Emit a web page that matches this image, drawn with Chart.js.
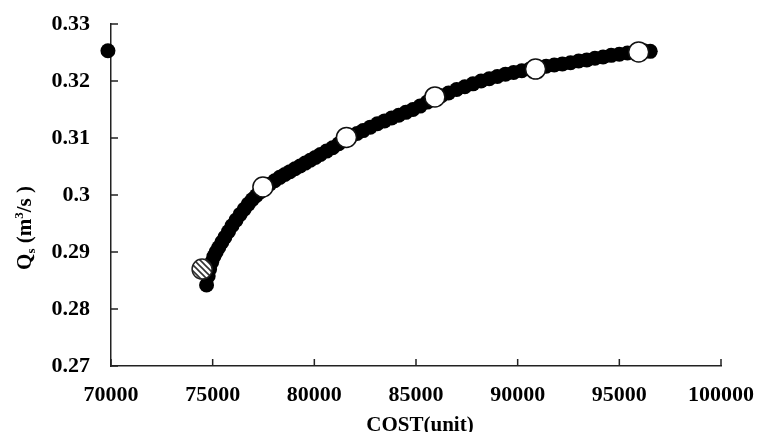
<!DOCTYPE html>
<html>
<head>
<meta charset="utf-8">
<script src="https://cdn.jsdelivr.net/npm/chart.js@4.4.1/dist/chart.umd.min.js"></script>
<style>
  html, body { margin: 0; padding: 0; background: #fff; }
  #wrap { width: 760px; height: 432px; }
</style>
</head>
<body>
<div id="wrap"><canvas id="chart" width="760" height="432"></canvas></div>
<script>
// Pareto front (black dots), cost vs Qs
const frontCost = [69850, 74700, 74780, 74850, 74950, 75060, 75170, 75300, 75450, 75600, 75780,
  75950, 76150, 76350, 76550, 76750, 76950, 77150, 77350, 77550, 77800, 78050, 78300, 78550,
  78800, 79050, 79300, 79550, 79800, 80050, 80300, 80600, 80900, 81200, 81500, 81800, 82100,
  82400, 82750, 83100, 83450, 83800, 84150, 84500, 84850, 85200, 85550, 85900, 86250, 86600,
  87000, 87400, 87800, 88200, 88600, 89000, 89400, 89800, 90200, 90600, 91000, 91400, 91800,
  92200, 92600, 93000, 93400, 93800, 94200, 94600, 95000, 95400, 95800, 96200, 96520];
const frontQs = [0.3253, 0.2842, 0.2858, 0.2870, 0.2882, 0.2892, 0.2900, 0.2908, 0.2917, 0.2926, 0.2936,
  0.2946, 0.2956, 0.2966, 0.2975, 0.2984, 0.2992, 0.2999, 0.3006, 0.3012, 0.3019, 0.3025, 0.3031, 0.3036,
  0.3041, 0.3046, 0.3051, 0.3056, 0.3061, 0.3066, 0.3071, 0.3077, 0.3083, 0.3090, 0.3097, 0.3103, 0.3108,
  0.3113, 0.3119, 0.3125, 0.3130, 0.3135, 0.3140, 0.3145, 0.3150, 0.3156, 0.3163, 0.3169, 0.3174, 0.3179,
  0.3185, 0.3190, 0.3195, 0.3200, 0.3204, 0.3208, 0.3212, 0.3215, 0.3218, 0.3221, 0.3223, 0.3226, 0.3228,
  0.3230, 0.3232, 0.3235, 0.3237, 0.3240, 0.3242, 0.3245, 0.3247, 0.3249, 0.3251, 0.3253, 0.3252];

// selected solutions (white circles)
const selCost = [77470, 81580, 85930, 90880, 95950];
const selQs = [0.3014, 0.3101, 0.3172, 0.3221, 0.3251];

// hatched point
const hatchCost = [74480];
const hatchQs = [0.2870];

const xTicks = [70000, 75000, 80000, 85000, 90000, 95000, 100000];
const yTicks = [0.27, 0.28, 0.29, 0.30, 0.31, 0.32, 0.33];

const toPoints = (xs, ys) => xs.map((x, i) => ({ x: x, y: ys[i] }));

function makeHatch() {
  const c = document.createElement('canvas');
  c.width = 6;
  c.height = 6;
  const g = c.getContext('2d');
  g.fillStyle = '#fff';
  g.fillRect(0, 0, 6, 6);
  g.strokeStyle = '#333';
  g.lineWidth = 1.6;
  g.beginPath();
  g.moveTo(-1, -1); g.lineTo(7, 7);
  g.moveTo(-4, 2); g.lineTo(2, 8);
  g.moveTo(2, -4); g.lineTo(8, 2);
  g.stroke();
  return g.createPattern(c, 'repeat');
}

const serif = '"Liberation Serif", "Times New Roman", serif';

// inward tick marks + axis titles
const axisExtras = {
  id: 'axisExtras',
  afterDraw(chart) {
    const ctx = chart.ctx;
    const xs = chart.scales.x, ys = chart.scales.y;
    const area = chart.chartArea;
    ctx.save();
    ctx.strokeStyle = '#222';
    ctx.lineWidth = 1.5;
    ctx.beginPath();
    xTicks.forEach(v => {
      const px = xs.getPixelForValue(v);
      ctx.moveTo(px, area.bottom);
      ctx.lineTo(px, area.bottom - 7);
    });
    yTicks.forEach(v => {
      const py = ys.getPixelForValue(v);
      ctx.moveTo(area.left, py);
      ctx.lineTo(area.left + 7, py);
    });
    ctx.stroke();

    ctx.fillStyle = '#000';
    ctx.font = 'bold 21px ' + serif;
    ctx.textAlign = 'center';
    ctx.textBaseline = 'alphabetic';
    ctx.fillText('COST(unit)', (area.left + area.right) / 2 + 4, 431);

    // y title with subscript / superscript
    ctx.translate(31, 228);
    ctx.rotate(-Math.PI / 2);
    const big = 'bold 21px ' + serif, small = 'bold 13px ' + serif;
    const parts = [
      { t: 'Q', f: big, dy: 0 },
      { t: 's', f: small, dy: 4 },
      { t: ' (m', f: big, dy: 0 },
      { t: '3', f: small, dy: -8 },
      { t: '/s )', f: big, dy: 0 }
    ];
    let total = 0;
    parts.forEach(p => { ctx.font = p.f; total += ctx.measureText(p.t).width; });
    let x = -total / 2;
    ctx.textAlign = 'left';
    parts.forEach(p => {
      ctx.font = p.f;
      ctx.fillText(p.t, x, p.dy);
      x += ctx.measureText(p.t).width;
    });
    ctx.restore();
  }
};

new Chart(document.getElementById('chart'), {
  type: 'scatter',
  data: {
    datasets: [
      {
        label: 'hatched',
        data: toPoints(hatchCost, hatchQs),
        pointRadius: 10,
        pointBackgroundColor: makeHatch(),
        pointBorderColor: '#222',
        pointBorderWidth: 1.5,
        clip: false
      },
      {
        label: 'selected',
        data: toPoints(selCost, selQs),
        pointRadius: 10,
        pointBackgroundColor: '#fff',
        pointBorderColor: '#111',
        pointBorderWidth: 1.5,
        clip: false
      },
      {
        label: 'front',
        data: toPoints(frontCost, frontQs),
        pointRadius: 7.5,
        pointBackgroundColor: '#000',
        pointBorderColor: '#000',
        pointBorderWidth: 0,
        clip: false
      }
    ]
  },
  options: {
    responsive: false,
    animation: false,
    events: [],
    layout: { padding: { top: 24, right: 39, left: 0, bottom: 0 } },
    plugins: {
      legend: { display: false },
      tooltip: { enabled: false }
    },
    scales: {
      x: {
        type: 'linear',
        min: 70000,
        max: 100000,
        afterFit: s => { s.height = 66; s.paddingLeft = 0; s.paddingRight = 0; },
        afterBuildTicks: s => { s.ticks = xTicks.map(v => ({ value: v })); },
        grid: { display: true, drawOnChartArea: false, drawTicks: false },
        border: { display: true, color: '#222', width: 1.5 },
        ticks: {
          padding: 16,
          color: '#000',
          font: { family: serif, size: 22, weight: 'bold' },
          callback: v => String(v)
        }
      },
      y: {
        type: 'linear',
        min: 0.27,
        max: 0.33,
        afterFit: s => { s.width = 111; s.paddingTop = 0; s.paddingBottom = 0; },
        afterBuildTicks: s => { s.ticks = yTicks.map(v => ({ value: v })); },
        grid: { display: true, drawOnChartArea: false, drawTicks: false },
        border: { display: true, color: '#222', width: 1.5 },
        ticks: {
          padding: 21,
          color: '#000',
          font: { family: serif, size: 22, weight: 'bold' },
          callback: v => String(Math.round(v * 100) / 100)
        }
      }
    }
  },
  plugins: [axisExtras]
});
</script>
</body>
</html>
